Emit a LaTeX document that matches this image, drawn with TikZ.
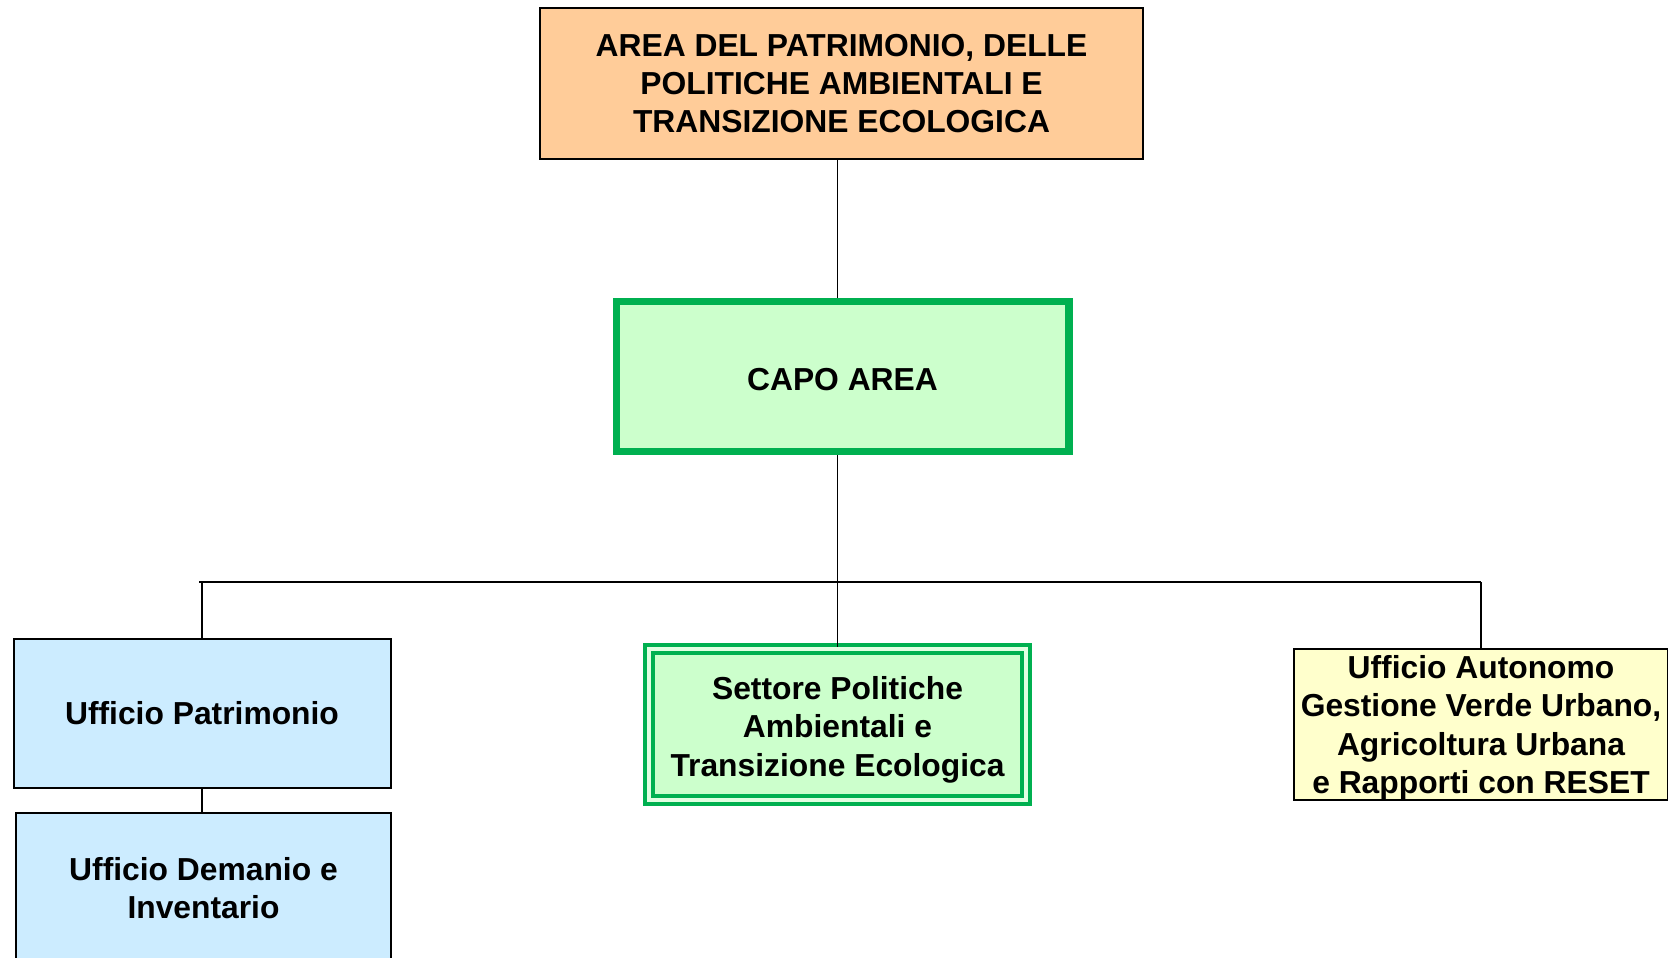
\documentclass[tikz,border=0pt]{standalone}
\usepackage{fontspec}
\setmainfont{Liberation Sans}
\definecolor{peach}{HTML}{FFCC99}
\definecolor{gborder}{HTML}{00B050}
\definecolor{gfill}{HTML}{CCFFCC}
\definecolor{gdouble}{HTML}{E2FFE2}
\definecolor{bfill}{HTML}{CCECFF}
\definecolor{yfill}{HTML}{FFFFCC}
\begin{document}
\begin{tikzpicture}[x=0.5pt,y=-0.5pt,
  box/.style={draw=black, line width=1pt, inner sep=0pt, align=center,
    font=\fontsize{15.9}{19.1}\selectfont\bfseries},
  conn/.style={draw=black, line width=0.75pt}]
\useasboundingbox (0,0) rectangle (1668,957);
\clip (0,0) rectangle (1668,957);
\fill[white] (0,0) rectangle (1668,957);

\node[box, fill=peach, minimum width=301.5pt, minimum height=75.5pt] (top) at (841.5,83.5)
  {AREA DEL PATRIMONIO, DELLE\\POLITICHE AMBIENTALI E\\TRANSIZIONE ECOLOGICA};
\node[box, draw=gborder, line width=3.75pt, fill=gfill, minimum width=226.25pt, minimum height=74.9pt] (capo) at (842.5,376.6)
  {\rule{0pt}{13.6pt}CAPO AREA};
\node[box, draw=gborder, line width=2pt, double=gdouble, double distance=2pt, fill=gfill,
  minimum width=188.7pt, minimum height=75.4pt] (sett) at (837.5,724.6)
  {\rule{0pt}{16.6pt}Settore Politiche\\Ambientali e\\Transizione Ecologica};
\node[box, fill=bfill, minimum width=188.5pt, minimum height=74.5pt] (patr) at (202,713.5)
  {Ufficio Patrimonio};
\node[box, fill=bfill, minimum width=187.75pt, minimum height=75pt] (dem) at (203.5,888)
  {Ufficio Demanio e\\Inventario};
\node[box, fill=yfill, minimum width=187pt, minimum height=74.5pt] (auto) at (1481,724.5)
  {\rule{0pt}{14.8pt}Ufficio Autonomo\\Gestione Verde Urbano,\\Agricoltura Urbana\\e Rapporti con RESET};

\coordinate (busL) at (199,582);
\coordinate (busR) at (1481,582);

\draw[conn] (sett.north |- top.south) -- (sett.north |- capo.north);
\draw[conn] (sett.north |- capo.south) -- (sett.north);
\draw[conn] (busL) -- (busR);
\draw[conn] (patr.north) -- (patr.north |- busL);
\draw[conn] (auto.north) -- (auto.north |- busR);
\draw[conn] (patr.south) -- (patr.south |- dem.north);
\end{tikzpicture}
\end{document}
